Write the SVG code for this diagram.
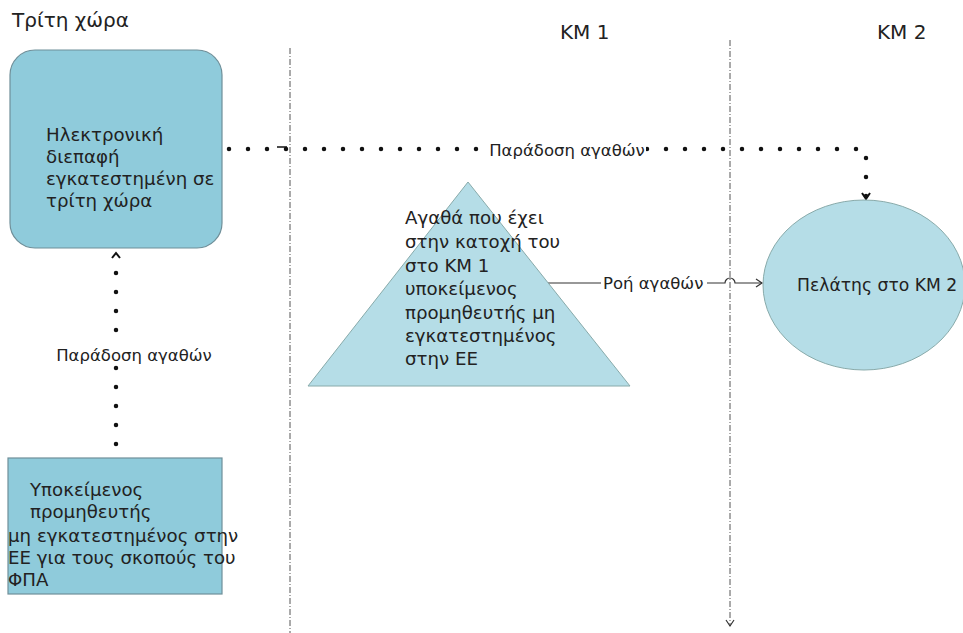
<svg xmlns="http://www.w3.org/2000/svg" width="963" height="633" viewBox="0 0 963 633">
<style>
text{font-family:"DejaVu Sans","Noto Sans",sans-serif;fill:#222;}
.big{font-size:18.2px;}
.lbl{font-size:16.5px;}
.hdr{font-size:20px;}
.dot{fill:none;stroke:#111;stroke-width:4.5;stroke-linecap:round;stroke-dasharray:0 19;}
.dd{fill:none;stroke:#555;stroke-width:1;stroke-dasharray:6 2 1 2;}
.box{fill:#8fcbdb;stroke:#6f8f99;stroke-width:1.2;}
.lt{fill:#b5dde7;stroke:#8aa;stroke-width:1;}
</style>
<defs>
<marker id="chevs" markerWidth="10" markerHeight="10" refX="8" refY="5" orient="auto" markerUnits="userSpaceOnUse">
<path d="M2,1 L8,5 L2,9" fill="none" stroke="#333" stroke-width="1.2"/>
</marker>
</defs>
<rect width="963" height="633" fill="#fff"/>
<g id="headers">
<text class="hdr" x="12" y="27">Τρίτη χώρα</text>
<text class="hdr" x="560" y="39">ΚΜ 1</text>
<text class="hdr" x="877" y="39">ΚΜ 2</text>
</g>
<g id="connectors">
<line class="dd" x1="290" y1="48" x2="290" y2="633"/>
<line class="dd" x1="730" y1="40" x2="730" y2="626" marker-end="url(#chevs)"/>
<path class="dot" d="M229,149 L866,149 L866,198"/>
<path d="M862,193 L866,199 L870,193" fill="none" stroke="#111" stroke-width="2"/>
<path d="M277,147 L287,147" stroke="#111" stroke-width="1.5"/>
<path class="dot" d="M116,444 L116,260"/>
<path d="M112,258 L116,253 L120,258" fill="none" stroke="#111" stroke-width="2"/>
<rect x="488" y="139" width="158" height="20" fill="#fff"/>
<text class="lbl" x="567" y="156" text-anchor="middle">Παράδοση αγαθών</text>
<rect x="55" y="344" width="158" height="20" fill="#fff"/>
<text class="lbl" x="134" y="361" text-anchor="middle">Παράδοση αγαθών</text>
<line x1="548" y1="283" x2="601" y2="283" stroke="#333" stroke-width="1.2"/>
<text class="lbl" x="603" y="289">Ροή αγαθών</text>
<path d="M707,283 L725,283 A5,5 0 0 1 735,283 L762,283" fill="none" stroke="#333" stroke-width="1.2" marker-end="url(#chevs)"/>
</g>
<g id="interface">
<rect class="box" x="10" y="50" width="212" height="198" rx="25"/>
<text class="big" x="46" y="141">Ηλεκτρονική</text>
<text class="big" x="46" y="163">διεπαφή</text>
<text class="big" x="46" y="185">εγκατεστημένη σε</text>
<text class="big" x="46" y="207">τρίτη χώρα</text>
</g>
<g id="goods">
<polygon class="lt" points="468,182 308,386 630,386"/>
<text class="big" x="405" y="224">Αγαθά που έχει</text>
<text class="big" x="405" y="248">στην κατοχή του</text>
<text class="big" x="405" y="272">στο ΚΜ 1</text>
<text class="big" x="405" y="295">υποκείμενος</text>
<text class="big" x="405" y="319">προμηθευτής μη</text>
<text class="big" x="405" y="342">εγκατεστημένος</text>
<text class="big" x="405" y="365">στην ΕΕ</text>
</g>
<g id="customer">
<ellipse class="lt" cx="864" cy="285" rx="101" ry="85" stroke="#333"/>
<text x="797" y="291" style="font-size:17.2px">Πελάτης στο ΚΜ 2</text>
</g>
<g id="supplier">
<rect class="box" x="8" y="458" width="214" height="136"/>
<text class="big" x="30" y="496">Υποκείμενος</text>
<text class="big" x="30" y="518">προμηθευτής</text>
<text class="big" x="8" y="542">μη εγκατεστημένος στην</text>
<text class="big" x="8" y="564">ΕΕ για τους σκοπούς του</text>
<text class="big" x="8" y="586">ΦΠΑ</text>
</g>
</svg>
